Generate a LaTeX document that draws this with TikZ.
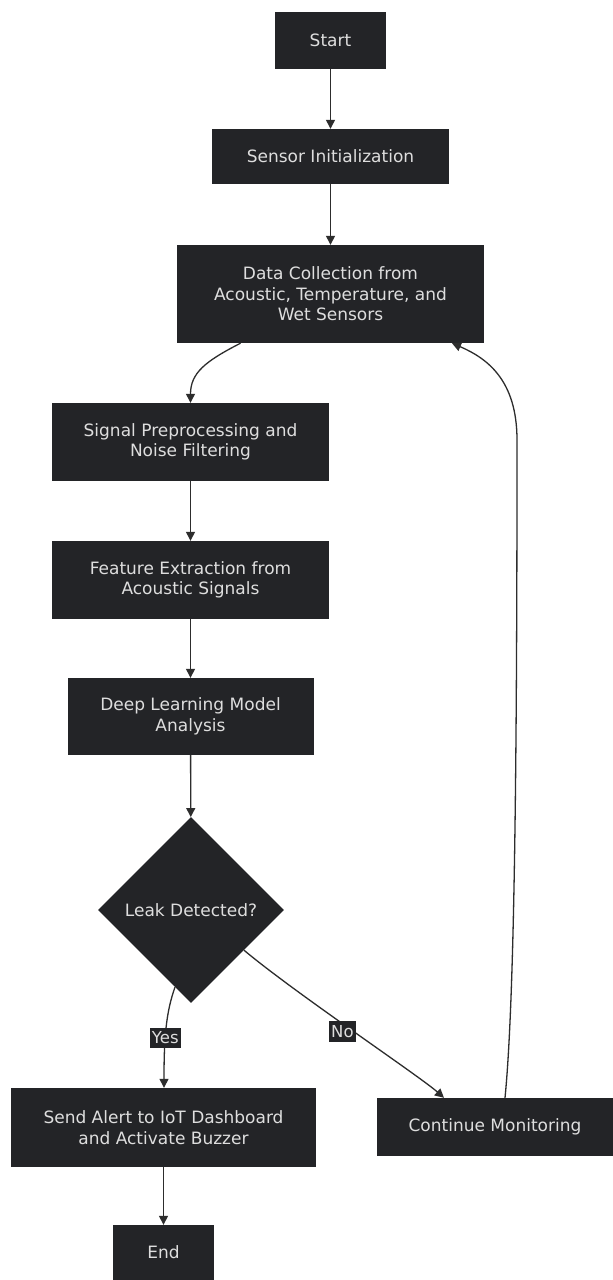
\documentclass[tikz,border=0pt]{standalone}
\usepackage{fontspec}
\setmainfont{DejaVu Sans}
\usetikzlibrary{shapes.geometric,arrows.meta}
\definecolor{boxfill}{RGB}{35,36,39}
\definecolor{boxtext}{RGB}{222,222,222}
\definecolor{edgecol}{RGB}{45,45,45}
\tikzset{
  box/.style={rectangle, fill=boxfill, text=boxtext, align=center, inner sep=0pt,
    font=\fontsize{17}{20.5}\selectfont},
  dec/.style={diamond, fill=boxfill, text=boxtext, align=center, inner sep=0pt, aspect=1,
    minimum width=186pt, minimum height=186pt, font=\fontsize{17}{20.5}\selectfont},
  conn/.style={draw=edgecol, line width=1.3pt, -{Triangle[length=9pt,width=9pt]}},
  elabel/.style={fill=boxfill, text=boxtext, inner xsep=2pt, inner ysep=4pt, font=\fontsize{16.5}{18}\selectfont}
}
\begin{document}
\begin{tikzpicture}[x=1pt,y=-1pt]
\useasboundingbox[fill=white] (0,0) rectangle (613,1280);
\node[box, minimum width=111pt, minimum height=57pt] (start) at (330.5,40.5) {Start};
\node[box, minimum width=237pt, minimum height=55pt] (init) at (330.5,156.5) {Sensor Initialization};
\node[box, minimum width=307pt, minimum height=98pt] (data) at (330.5,294) {Data Collection from\\Acoustic, Temperature, and\\Wet Sensors};
\node[box, minimum width=277pt, minimum height=78pt] (pre) at (190.5,442) {Signal Preprocessing and\\Noise Filtering};
\node[box, minimum width=277pt, minimum height=78pt] (feat) at (190.5,580) {Feature Extraction from\\Acoustic Signals};
\node[box, minimum width=246pt, minimum height=77pt] (deep) at (190.5,716.5) {Deep Learning Model\\Analysis};
\node[dec] (leak) at (191,910) {Leak Detected?};
\node[box, minimum width=305pt, minimum height=79pt] (alert) at (163.5,1127.5) {Send Alert to IoT Dashboard\\and Activate Buzzer};
\node[box, minimum width=236pt, minimum height=58pt] (cont) at (495,1127) {Continue Monitoring};
\node[box, minimum width=101pt, minimum height=55pt] (end) at (163.5,1252.5) {End};

\draw[conn] (start) -- (init);
\draw[conn] (init) -- (data);
\draw[conn] ([xshift=-90pt]data.south) .. controls +(-35,18) and +(0,-30) .. (pre.north);
\draw[conn] (pre) -- (feat);
\draw[conn] (feat) -- (deep);
\draw[conn] (deep) -- (leak);
\draw[conn] ([xshift=-16pt,yshift=16pt]leak.south) .. controls +(-9,25) and +(0,-50) .. ([xshift=0.5pt]alert.north)
  node[elabel, pos=0.6] {Yes};
\draw[conn] ([xshift=53pt,yshift=53pt]leak.south) .. controls +(50,42) and +(-25,-22) .. ([xshift=-51pt]cont.north)
  node[elabel, pos=0.5, xshift=-11pt] {No};
\coordinate (up) at (517,440);
\draw[conn] ([xshift=10pt]cont.north) .. controls +(10,-100) and +(0,300) .. (up)
  .. controls +(0,-60) and +(35,15) .. ([xshift=121.5pt]data.south);
\draw[conn] (alert) -- (end);
\end{tikzpicture}
\end{document}
